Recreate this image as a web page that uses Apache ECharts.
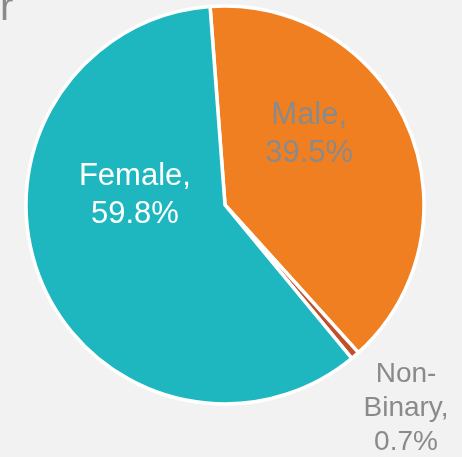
<!DOCTYPE html>
<html>
<head>
<meta charset="utf-8">
<script src="https://cdn.jsdelivr.net/npm/echarts@6/dist/echarts.min.js"></script>
<style>
html,body{margin:0;padding:0;background:#F2F2F2;}
#chart{width:462px;height:457px;}
</style>
</head>
<body>
<div id="chart"></div>
<script>
// Data (clockwise order from the top)
const categories = ['Male', 'Non-Binary', 'Female'];
const labelNames = ['Male', 'Non-\nBinary', 'Female'];
const values = [39.5, 0.7, 59.8];
const titleText = 'r';

const colors = ['#F07F21', '#C0502A', '#1FB7BF'];
const labelStyles = [
  { color: '#8A8A8A', fontSize: 31, lineHeight: 38, offset: [-10, -30] },
  { color: '#8A8A8A', fontSize: 28, lineHeight: 34, offset: [114, 126] },
  { color: '#FFFFFF', fontSize: 31, lineHeight: 38, offset: [5, -48] }
];

const data = categories.map((c, i) => ({
  name: c,
  value: values[i],
  itemStyle: { color: colors[i] },
  label: {
    show: true,
    position: 'inside',
    formatter: labelNames[i] + ',\n' + values[i].toFixed(1) + '%',
    color: labelStyles[i].color,
    fontSize: labelStyles[i].fontSize,
    lineHeight: labelStyles[i].lineHeight,
    offset: labelStyles[i].offset,
    fontFamily: 'Liberation Sans, Arial, sans-serif',
    align: 'center'
  }
}));

const chart = echarts.init(document.getElementById('chart'));
chart.setOption({
  backgroundColor: '#F2F2F2',
  animation: false,
  graphic: [{
    type: 'text',
    style: {
      text: titleText,
      x: 0,
      y: 29,
      fill: '#8A8A8A',
      fontSize: 40,
      fontFamily: 'Liberation Sans, Arial, sans-serif',
      verticalAlign: 'bottom'
    }
  }],
  series: [{
    type: 'pie',
    center: [225, 205],
    radius: [0, 199],
    startAngle: 94.3,
    clockwise: true,
    avoidLabelOverlap: false,
    labelLine: { show: false },
    itemStyle: { borderColor: '#FFFFFF', borderWidth: 3.5 },
    emphasis: { disabled: true },
    data: data
  }]
});
</script>
</body>
</html>
